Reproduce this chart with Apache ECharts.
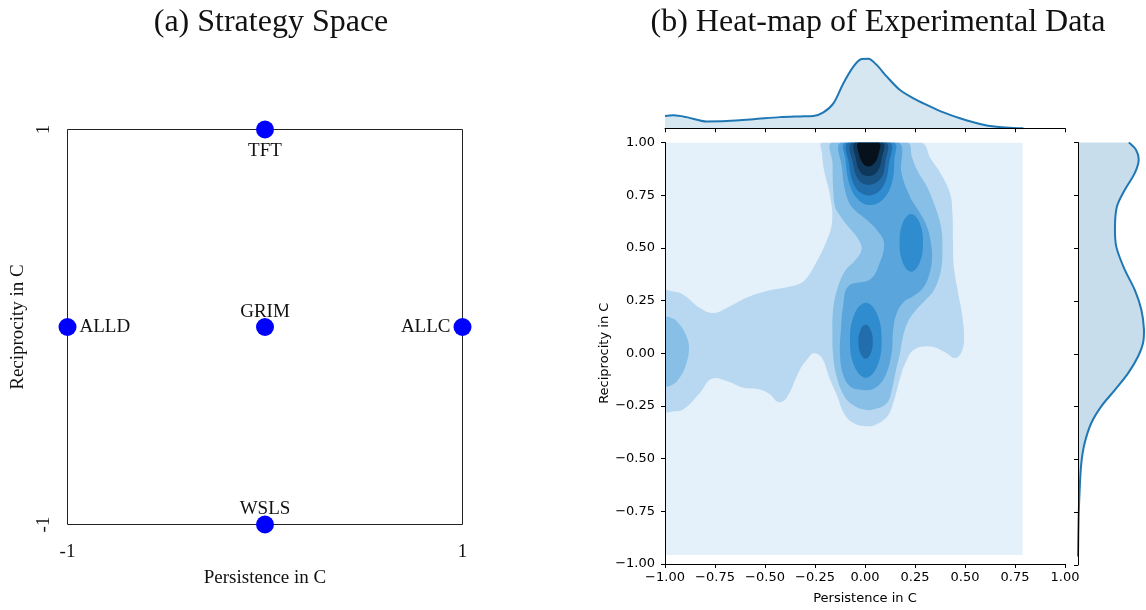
<!DOCTYPE html>
<html>
<head>
<meta charset="utf-8">
<title>Strategy space and heat-map</title>
<script src="https://cdn.jsdelivr.net/npm/echarts@6/dist/echarts.min.js"></script>
<style>
html, body { margin: 0; padding: 0; background: #fff; }
#main { width: 1146px; height: 610px; }
</style>
</head>
<body>
<div id="main"></div>
<script>
// (a) strategy corners
var strategyNames = ['TFT', 'ALLD', 'GRIM', 'ALLC', 'WSLS'];
var strategyPersist = [0, -1, 0, 1, 0];
var strategyRecip = [1, 0, 0, 0, -1];

// (b) marginal density along persistence (top)
var persistX = [-1.0, -0.958, -0.892, -0.792, -0.692, -0.558, -0.425, -0.325, -0.258, -0.208, -0.158, -0.108, -0.058,
    -0.017, 0.017, 0.058, 0.108, 0.175, 0.242, 0.308, 0.392, 0.475, 0.575, 0.658, 0.742, 0.792];
var persistDens = [0.34, 0.36, 0.31, 0.19, 0.20, 0.25, 0.31, 0.33, 0.34, 0.44, 0.69, 1.25, 1.71,
    1.92, 1.93, 1.76, 1.44, 1.06, 0.83, 0.65, 0.44, 0.28, 0.12, 0.04, 0.01, 0.0];

// marginal density along reciprocity (right)
var recipY = [1.0, 0.965, 0.918, 0.855, 0.776, 0.697, 0.602, 0.507, 0.397, 0.302, 0.208, 0.113, 0.05,
    -0.013, -0.092, -0.171, -0.25, -0.329, -0.424, -0.519, -0.645, -0.771, -0.96];
var recipDens = [0.77, 0.88, 0.92, 0.86, 0.71, 0.59, 0.56, 0.58, 0.71, 0.86, 0.96, 1.0, 0.985,
    0.91, 0.76, 0.56, 0.35, 0.20, 0.10, 0.05, 0.025, 0.01, 0.0];

// kde contour outlines, [persistence, reciprocity]
var kdeLevel1 = [[-1, -0.957], [0.788, -0.957], [0.788, 1], [-1, 1]];
var kdeLevel2 = [[-0.215, 1], [0.278, 1], [0.33, 0.92], [0.378, 0.853], [0.425, 0.76], [0.437, 0.664], [0.44, 0.53],
    [0.444, 0.41], [0.465, 0.29], [0.487, 0.174], [0.495, 0.06], [0.48, 0.0], [0.45, -0.023], [0.40, 0.005],
    [0.328, 0.032], [0.245, 0.017], [0.20, -0.05], [0.178, -0.11], [0.14, -0.24], [0.111, -0.30], [0.05, -0.34],
    [0.0, -0.346], [-0.06, -0.33], [-0.106, -0.283], [-0.14, -0.20], [-0.175, -0.124], [-0.217, -0.02],
    [-0.258, 0.0], [-0.29, -0.03], [-0.325, -0.077], [-0.392, -0.211], [-0.433, -0.232], [-0.475, -0.195],
    [-0.525, -0.172], [-0.608, -0.164], [-0.692, -0.132], [-0.767, -0.121], [-0.825, -0.187], [-0.908, -0.266],
    [-0.96, -0.276], [-1, -0.274], [-1, 0.294], [-0.96, 0.293], [-0.908, 0.278], [-0.825, 0.215], [-0.758, 0.191],
    [-0.692, 0.215], [-0.575, 0.27], [-0.458, 0.302], [-0.375, 0.317], [-0.308, 0.341], [-0.25, 0.42],
    [-0.19, 0.537], [-0.164, 0.631], [-0.175, 0.75], [-0.205, 0.87], [-0.215, 0.95]];
var kdeLevel3a = [[-1, 0.168], [-0.963, 0.166], [-0.93, 0.14], [-0.897, 0.09], [-0.88, 0.026], [-0.897, -0.06],
    [-0.93, -0.12], [-0.963, -0.15], [-1, -0.153]];
var kdeLevel3b = [[-0.164, 1], [0.211, 1], [0.235, 0.93], [0.261, 0.868], [0.31, 0.79], [0.345, 0.71], [0.38, 0.6],
    [0.387, 0.5], [0.38, 0.395], [0.345, 0.30], [0.30, 0.25], [0.255, 0.205], [0.215, 0.15], [0.19, 0.08],
    [0.175, 0.0], [0.155, -0.08], [0.135, -0.17], [0.111, -0.235], [0.05, -0.265], [0.0, -0.268], [-0.06, -0.245],
    [-0.106, -0.20], [-0.145, -0.1], [-0.16, 0.0], [-0.163, 0.1], [-0.16, 0.2], [-0.14, 0.3], [-0.1, 0.39],
    [-0.05, 0.44], [-0.017, 0.491], [-0.033, 0.54], [-0.083, 0.60], [-0.13, 0.66], [-0.15, 0.696], [-0.16, 0.8],
    [-0.162, 0.9]];
var kdeLevel4 = [[-0.12, 1], [0.167, 1], [0.183, 0.854], [0.225, 0.743], [0.275, 0.665], [0.31, 0.6], [0.33, 0.52],
    [0.335, 0.45], [0.32, 0.37], [0.29, 0.31], [0.24, 0.27], [0.19, 0.24], [0.155, 0.18], [0.14, 0.1],
    [0.133, 0.0], [0.1, -0.11], [0.05, -0.165], [0.0, -0.175], [-0.07, -0.16], [-0.11, -0.1], [-0.125, 0.0],
    [-0.12, 0.12], [-0.11, 0.22], [-0.083, 0.318], [0.025, 0.35], [0.07, 0.42], [0.095, 0.523], [0.058, 0.586],
    [0.008, 0.633], [-0.067, 0.696], [-0.1, 0.775], [-0.115, 0.88]];
var kdeLevel5a = [[-0.1, 1], [0.145, 1], [0.147, 0.92], [0.135, 0.81], [0.09, 0.73], [0.02, 0.703], [-0.04, 0.735],
    [-0.08, 0.81], [-0.098, 0.92]];
var kdeLevel5b = [[0.231, 0.661], [0.272, 0.621], [0.29, 0.524], [0.272, 0.427], [0.231, 0.387], [0.19, 0.427],
    [0.173, 0.524], [0.19, 0.621]];
var kdeLevel5c = [[0.004, 0.24], [0.06, 0.188], [0.083, 0.062], [0.06, -0.064], [0.004, -0.116], [-0.052, -0.064],
    [-0.075, 0.062], [-0.052, 0.188]];
var kdeLevel6a = [[-0.085, 1], [0.124, 1], [0.12, 0.9], [0.095, 0.8], [0.04, 0.752], [-0.02, 0.76], [-0.06, 0.81],
    [-0.08, 0.9]];
var kdeLevel6b = [[0.003, 0.136], [0.028, 0.112], [0.039, 0.055], [0.028, -0.002], [0.003, -0.026], [-0.022, -0.002],
    [-0.033, 0.055], [-0.022, 0.112]];
var kdeLevel7 = [[-0.067, 1], [0.106, 1], [0.102, 0.91], [0.08, 0.83], [0.025, 0.80], [-0.03, 0.82], [-0.06, 0.9]];
var kdeLevel8 = [[-0.05, 1], [0.089, 1], [0.085, 0.93], [0.06, 0.86], [0.02, 0.841], [-0.02, 0.855], [-0.045, 0.92]];
var kdeLevel9 = [[-0.033, 1], [0.07, 1], [0.066, 0.94], [0.045, 0.9], [0.018, 0.886], [-0.01, 0.9], [-0.03, 0.945]];

var kdeShapes = [kdeLevel1, kdeLevel2, kdeLevel3a, kdeLevel3b, kdeLevel4, kdeLevel5a, kdeLevel5b, kdeLevel5c,
    kdeLevel6a, kdeLevel6b, kdeLevel7, kdeLevel8, kdeLevel9];
var kdeShapeLevel = [0, 1, 2, 2, 3, 4, 4, 4, 5, 5, 6, 7, 8];
var kdeColors = ['#e4f0fa', '#b7d8f0', '#88bfe6', '#5aa5dc', '#2e8ccf', '#226eac', '#185384', '#0f375a', '#06111b'];

var serif = 'Liberation Serif';
var sans = 'DejaVu Sans';
var labelPos = { TFT: 'bottom', ALLD: 'right', GRIM: 'top', ALLC: 'left', WSLS: 'top' };
var labelGap = { TFT: 3, ALLD: 3, GRIM: -4, ALLC: 3, WSLS: -3 };

function fmt(v) {
    return v.toFixed(2).replace('-', '\u2212');
}

var myChart = echarts.init(document.getElementById('main'), null, { renderer: 'canvas' });

var option = {
    animation: false,
    backgroundColor: '#fff',
    title: [
        { text: '(a) Strategy Space', left: 266, top: 2, textAlign: 'center',
          textStyle: { fontFamily: serif, fontSize: 32, fontWeight: 'normal', color: '#111' } },
        { text: '(b) Heat-map of Experimental Data', left: 873, top: 2, textAlign: 'center',
          textStyle: { fontFamily: serif, fontSize: 32, fontWeight: 'normal', color: '#111' } }
    ],
    grid: [
        { left: 67.5, top: 129.5, width: 395, height: 395, show: true, borderColor: '#222', borderWidth: 1,
          backgroundColor: 'transparent' },
        { left: 665, top: 142.5, width: 400, height: 422.5 },
        { left: 665, top: 49, width: 400, height: 79.3 },
        { left: 1078, top: 142.5, width: 66, height: 422.5 }
    ],
    xAxis: [
        { gridIndex: 0, type: 'value', min: -1, max: 1, interval: 2,
          axisLine: { show: false }, axisTick: { show: false }, splitLine: { show: false },
          axisLabel: { fontFamily: serif, fontSize: 19, color: '#111', margin: 18 },
          name: 'Persistence in C', nameLocation: 'middle', nameGap: 44,
          nameTextStyle: { fontFamily: serif, fontSize: 19, color: '#111' } },
        { gridIndex: 1, type: 'value', min: -1, max: 1, interval: 0.25, z: 10,
          axisLine: { onZero: false, lineStyle: { color: '#000', width: 1 } },
          axisTick: { length: 4, lineStyle: { color: '#000' } },
          splitLine: { show: false },
          axisLabel: { fontFamily: sans, fontSize: 13, color: '#000', margin: 7, interval: 0, formatter: fmt },
          name: 'Persistence in C', nameLocation: 'middle', nameGap: 28,
          nameTextStyle: { fontFamily: sans, fontSize: 13, color: '#000' } },
        { gridIndex: 2, type: 'value', min: -1, max: 1, interval: 0.25, z: 10,
          axisLine: { onZero: false, lineStyle: { color: '#000', width: 1 } },
          axisTick: { length: 4, lineStyle: { color: '#000' } },
          splitLine: { show: false }, axisLabel: { show: false } },
        { gridIndex: 3, type: 'value', min: 0, max: 1, show: false }
    ],
    yAxis: [
        { gridIndex: 0, type: 'value', min: -1, max: 1, interval: 2,
          axisLine: { show: false }, axisTick: { show: false }, splitLine: { show: false },
          axisLabel: { fontFamily: serif, fontSize: 19, color: '#111', margin: 14, rotate: 90 },
          name: 'Reciprocity in C', nameLocation: 'middle', nameGap: 40, nameRotate: 90,
          nameTextStyle: { fontFamily: serif, fontSize: 19, color: '#111' } },
        { gridIndex: 1, type: 'value', min: -1, max: 1, interval: 0.25, z: 10,
          axisLine: { onZero: false, lineStyle: { color: '#000', width: 1 } },
          axisTick: { length: 4, lineStyle: { color: '#000' } },
          splitLine: { show: false },
          axisLabel: { fontFamily: sans, fontSize: 13, color: '#000', margin: 10, interval: 0, formatter: fmt },
          name: 'Reciprocity in C', nameLocation: 'middle', nameGap: 53, nameRotate: 90,
          nameTextStyle: { fontFamily: sans, fontSize: 13, color: '#000' } },
        { gridIndex: 2, type: 'value', min: 0, max: 2.2, show: false },
        { gridIndex: 3, type: 'value', min: -1, max: 1, interval: 0.25, z: 10,
          axisLine: { onZero: false, lineStyle: { color: '#000', width: 1 } },
          axisTick: { length: 4, lineStyle: { color: '#000' } },
          splitLine: { show: false }, axisLabel: { show: false } }
    ],
    series: [
        {
            type: 'scatter', xAxisIndex: 0, yAxisIndex: 0, symbolSize: 18, clip: false,
            itemStyle: { color: '#0000ff', opacity: 1 },
            label: { show: true, formatter: '{b}', fontFamily: serif, fontSize: 19, color: '#111' },
            data: strategyNames.map(function (n, i) {
                return { name: n, value: [strategyPersist[i], strategyRecip[i]],
                         label: { position: labelPos[n], distance: labelGap[n] } };
            })
        },
        {
            type: 'custom', xAxisIndex: 1, yAxisIndex: 1, clip: true,
            data: kdeShapes.map(function (s, i) { return [0, 0, i]; }),
            renderItem: function (params, api) {
                var idx = params.dataIndex;
                var cs = params.coordSys;
                var pts = kdeShapes[idx].map(function (p) { return api.coord(p); });
                return {
                    type: 'polygon',
                    shape: {
                        points: pts,
                        smooth: idx === 0 ? 0 : 0.4,
                        smoothConstraint: [[cs.x, cs.y], [cs.x + cs.width, cs.y + cs.height]]
                    },
                    style: { fill: kdeColors[kdeShapeLevel[idx]], stroke: null }
                };
            }
        },
        {
            type: 'line', xAxisIndex: 2, yAxisIndex: 2, smooth: 0.3, symbol: 'none',
            lineStyle: { color: '#1f77b4', width: 2 },
            areaStyle: { color: 'rgba(31,119,180,0.25)' },
            data: persistX.map(function (x, i) { return [x, persistDens[i]]; })
        },
        {
            type: 'custom', xAxisIndex: 3, yAxisIndex: 3,
            data: [[0, 0]],
            renderItem: function (params, api) {
                var cs = params.coordSys;
                var box = [[cs.x, cs.y], [cs.x + cs.width, cs.y + cs.height]];
                var curve = recipY.map(function (y, i) { return api.coord([recipDens[i], y]); });
                var area = [api.coord([0, recipY[0]])].concat(curve, [api.coord([0, recipY[recipY.length - 1]])]);
                return {
                    type: 'group',
                    children: [
                        { type: 'polygon', shape: { points: area, smooth: 0.35, smoothConstraint: box },
                          style: { fill: 'rgba(31,119,180,0.25)', stroke: null } },
                        { type: 'polyline', shape: { points: curve, smooth: 0.35, smoothConstraint: box },
                          style: { fill: null, stroke: '#1f77b4', lineWidth: 2 } }
                    ]
                };
            }
        }
    ]
};

myChart.setOption(option);
</script>
</body>
</html>
